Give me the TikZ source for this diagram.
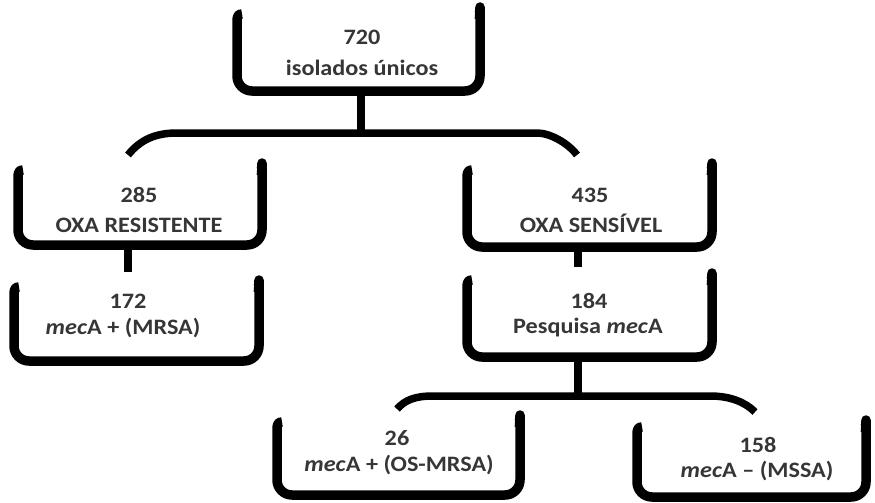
\documentclass[tikz,border=0pt]{standalone}
\usepackage{fontspec}
\setmainfont{Carlito}[FakeStretch=1.1]
\usetikzlibrary{calc,fit}
\definecolor{txt}{HTML}{363636}
\newcommand\ubx[1]{%
  \draw[ustroke] ($(#1.north west)+(5,0)$) .. controls ($(#1.north west)+(1,0)$) and ($(#1.north west)+(0,2)$) .. ($(#1.north west)+(0,8)$)
    [rounded corners=15pt] -- (#1.south west) -- (#1.south east) -- ($(#1.north east)+(0,8)$) [sharp corners]
    .. controls ($(#1.north east)+(0,2)$) and ($(#1.north east)+(-1,0)$) .. ($(#1.north east)+(-5,0)$);}
\begin{document}
\begin{tikzpicture}[x=1pt,y=-1pt,
  bx/.style={inner sep=0pt, outer sep=0pt, draw=none},
  ustroke/.style={line width=9.5pt, line cap=butt, line join=round},
  conn/.style={line width=7.5pt, line cap=butt},
  lbl/.style={font=\fontsize{22}{26}\selectfont\bfseries, text=txt, anchor=base, inner sep=0pt}]
\useasboundingbox[fill=white] (0,0) rectangle (875,503);

% boxes
\node[bx, fit={(237,14) (480,91)}] (b720) {};
\node[bx, fit={(18,170) (262,245)}] (b285) {};
\node[bx, fit={(14,287) (259,361)}] (b172) {};
\node[bx, fit={(467,170) (712,247)}] (b435) {};
\node[bx, fit={(467,280) (712,357)}] (b184) {};
\node[bx, fit={(277,422) (520,495)}] (b26) {};
\node[bx, fit={(637,427) (866,497)}] (b158) {};
\foreach \b in {b720,b285,b172,b435,b184,b26,b158} {\ubx{\b}}

% texts
\node[lbl] (n720) at (362,45) {720};
\node[lbl] (d720) at (362,75) {isolados únicos};
\node[lbl] (n285) at (139,202) {285};
\node[lbl] (d285) at (139,232) {OXA RESISTENTE};
\node[lbl] (n172) at (128,308) {172};
\node[lbl] (d172) at (123,334) {\textit{mec}A + (MRSA)};
\node[lbl] (n435) at (590,202) {435};
\node[lbl] (d435) at (591,232) {OXA SENSÍVEL};
\node[lbl] (n184) at (589,308) {184};
\node[lbl] (d184) at (588,333) {Pesquisa \textit{mec}A};
\node[lbl] (n26) at (397,445) {26};
\node[lbl] (d26) at (399,471) {\textit{mec}A + (OS-MRSA)};
\node[lbl] (n158) at (758,452) {158};
\node[lbl] (d158) at (757,477) {\textit{mec}A – (MSSA)};

% connector coordinates
\coordinate (j1) at (361,133);
\coordinate (e1l) at (128,155);
\coordinate (e1r) at (577,155);
\coordinate (s2) at (128,272);
\coordinate (s3) at (578,267);
\coordinate (j2) at (578,396);
\coordinate (e2l) at (397,409);
\coordinate (e2r) at (755,412);

% connectors
\draw[conn] (b720.south -| j1) -- (j1);
\draw[conn] (e1l) .. controls (140,140) and (155,133) .. (177,133) -- (537,133)
  .. controls (550,133) and (568,143) .. (e1r);
\draw[conn] (b285.south -| s2) -- (s2);
\draw[conn] (b435.south -| s3) -- (s3);
\draw[conn] (b184.south -| j2) -- (j2);
\draw[conn] (e2l) .. controls (405,400) and (415,396) .. (433,396) -- (710,396)
  .. controls (730,396) and (745,402) .. (e2r);
\end{tikzpicture}
\end{document}
